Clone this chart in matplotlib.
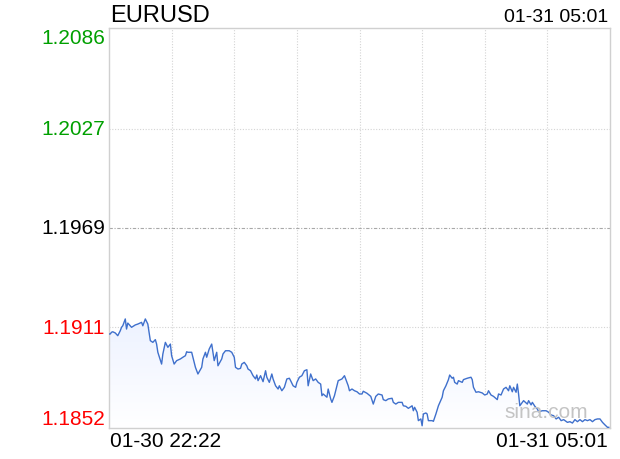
import matplotlib
matplotlib.use("Agg")
import matplotlib.pyplot as plt
import matplotlib.transforms as mtransforms
import numpy as np

# minutes after 01-30 22:22 and EURUSD price
minutes = [0, 1, 2, 3, 5, 7, 9, 10, 11, 13, 14, 15, 18, 21, 23, 26, 27, 29, 31, 33,
           35, 37, 38, 39, 42, 43, 45, 47, 49, 50, 52, 54, 57, 59, 61, 62, 63, 66, 67, 69,
           71, 74, 75, 77, 78, 80, 82, 84, 86, 87, 90, 91, 93, 96, 98, 100, 101, 103, 105, 106,
           108, 110, 111, 113, 115, 117, 118, 119, 121, 123, 125, 126, 128, 130, 131, 133, 135, 136, 138, 140,
           142, 144, 145, 147, 149, 150, 152, 154, 156, 158, 159, 161, 163, 165, 167, 169, 170, 171, 174, 175,
           177, 178, 180, 182, 183, 186, 188, 190, 191, 192, 194, 196, 198, 200, 202, 203, 206, 209, 211, 213,
           215, 218, 219, 221, 223, 226, 227, 229, 231, 234, 235, 237, 239, 242, 243, 244, 246, 247, 249, 250,
           251, 253, 254, 255, 258, 259, 261, 263, 266, 267, 269, 271, 272, 274, 275, 276, 278, 279, 282, 283,
           286, 289, 290, 291, 293, 295, 298, 300, 302, 303, 305, 307, 310, 311, 313, 315, 317, 319, 320, 322,
           323, 325, 326, 327, 328, 330, 331, 334, 335, 337, 338, 340, 342, 343, 346, 349, 351, 353, 355, 357,
           359, 361, 363, 366, 368, 370, 372, 374, 376, 378, 380, 382, 384, 386, 388, 390, 392, 394, 396, 398,
           399]
prices = [1.19070, 1.19070, 1.19080, 1.19083, 1.19076, 1.19060, 1.19089, 1.19109, 1.19118, 1.19158,
          1.19099, 1.19134, 1.19109, 1.19123, 1.19128, 1.19138, 1.19118, 1.19158, 1.19128, 1.19031,
          1.19021, 1.19037, 1.19011, 1.18963, 1.18894, 1.18953, 1.19021, 1.18992, 1.19011, 1.18943,
          1.18894, 1.18914, 1.18924, 1.18934, 1.18943, 1.18966, 1.18963, 1.18963, 1.18934, 1.18875,
          1.18836, 1.18875, 1.18924, 1.18963, 1.18934, 1.18982, 1.19011, 1.18914, 1.18963, 1.18884,
          1.18924, 1.18953, 1.18972, 1.18972, 1.18963, 1.18934, 1.18875, 1.18865, 1.18869, 1.18894,
          1.18904, 1.18884, 1.18865, 1.18855, 1.18826, 1.18807, 1.18830, 1.18797, 1.18826, 1.18791,
          1.18855, 1.18817, 1.18787, 1.18836, 1.18807, 1.18767, 1.18748, 1.18767, 1.18738, 1.18758,
          1.18807, 1.18811, 1.18797, 1.18767, 1.18758, 1.18787, 1.18817, 1.18826, 1.18855, 1.18861,
          1.18767, 1.18836, 1.18797, 1.18807, 1.18787, 1.18777, 1.18709, 1.18719, 1.18700, 1.18748,
          1.18690, 1.18670, 1.18709, 1.18767, 1.18797, 1.18807, 1.18826, 1.18787, 1.18767, 1.18738,
          1.18748, 1.18738, 1.18732, 1.18719, 1.18719, 1.18735, 1.18723, 1.18705, 1.18660, 1.18705,
          1.18719, 1.18713, 1.18686, 1.18680, 1.18690, 1.18694, 1.18670, 1.18660, 1.18670, 1.18670,
          1.18650, 1.18647, 1.18635, 1.18650, 1.18621, 1.18641, 1.18612, 1.18563, 1.18573, 1.18533,
          1.18602, 1.18608, 1.18602, 1.18563, 1.18563, 1.18559, 1.18602, 1.18650, 1.18700, 1.18738,
          1.18767, 1.18803, 1.18830, 1.18811, 1.18817, 1.18787, 1.18777, 1.18797, 1.18787, 1.18803,
          1.18811, 1.18817, 1.18803, 1.18758, 1.18729, 1.18732, 1.18725, 1.18713, 1.18719, 1.18738,
          1.18713, 1.18705, 1.18686, 1.18719, 1.18713, 1.18748, 1.18758, 1.18738, 1.18767, 1.18732,
          1.18758, 1.18729, 1.18777, 1.18719, 1.18650, 1.18670, 1.18680, 1.18660, 1.18680, 1.18655,
          1.18670, 1.18647, 1.18631, 1.18615, 1.18621, 1.18621, 1.18612, 1.18596, 1.18592, 1.18573,
          1.18583, 1.18563, 1.18569, 1.18553, 1.18557, 1.18549, 1.18569, 1.18557, 1.18569, 1.18557,
          1.18569, 1.18563, 1.18569, 1.18557, 1.18569, 1.18573, 1.18573, 1.18553, 1.18538, 1.18524,
          1.18524]

y_ticks = [1.2086, 1.2027, 1.1969, 1.1911, 1.1852]
y_labels = ['1.2086', '1.2027', '1.1969', '1.1911', '1.1852']
y_colors = ['#00a000', '#00a000', '#000000', '#ff0000', '#ff0000']
prev_close = 1.1969
symbol = 'EURUSD'
start_label = '01-30 22:22'
end_label = '01-31 05:01'
x_span = 400

plt.rcParams['font.family'] = ['Liberation Sans', 'DejaVu Sans']

fig = plt.figure(figsize=(6.2, 4.6), dpi=100)
ax = fig.add_axes([109 / 620, 1 - 429 / 460, 501 / 620, 400 / 460])
ax.set_xlim(0, x_span)
ax.set_ylim(y_ticks[-1], y_ticks[0])

x = np.array(minutes)
y = np.array(prices)

# gradient fill under the line
poly = ax.fill_between(x, y, y_ticks[-1], color='none', lw=0)
grad = np.linspace(0, 1, 256).reshape(-1, 1)
top_col = np.array([0.93, 0.95, 1.0])
img = top_col + (1 - top_col) * grad
img = img.reshape(256, 1, 3)
im = ax.imshow(img, aspect='auto', extent=[0, x_span, y_ticks[-1], y.max()],
               origin='upper', zorder=1)
im.set_clip_path(poly.get_paths()[0], transform=ax.transData)

ax.plot(x, y, color='#3f70cc', lw=1.0, zorder=3)

# grid
for i in range(1, 8):
    ax.axvline(x_span * i / 8, color='#d4d4d4', lw=0.8, ls=(0, (1, 1.5)), zorder=0)
for v in y_ticks[1:-1]:
    if v == prev_close:
        ax.axhline(v, color='#a8a8a8', lw=0.8, ls=(0, (3, 1.5, 1, 1.5)), zorder=2)
    else:
        ax.axhline(v, color='#d4d4d4', lw=0.8, ls=(0, (1, 1.5)), zorder=0)

for s in ax.spines.values():
    s.set_color('#d0d0d0')
    s.set_linewidth(1.0)
ax.set_xticks([])
ax.set_yticks([])

# y labels
trans = mtransforms.blended_transform_factory(fig.transFigure, ax.transData)
for i, (v, lab, c) in enumerate(zip(y_ticks, y_labels, y_colors)):
    va = 'center'
    if i == 0:
        va = 'top'
    elif i == len(y_ticks) - 1:
        va = 'bottom'
    ax.text(105 / 620, v, lab, color=c, fontsize=15, ha='right', va=va,
            transform=trans)

fig.text(110 / 620, 1 - 16 / 460, symbol, fontsize=17, ha='left', va='center')
fig.text(608 / 620, 1 - 18 / 460, end_label, fontsize=14, ha='right', va='center')
fig.text(110 / 620, 1 - 442 / 460, start_label, fontsize=15, ha='left', va='center')
fig.text(608 / 620, 1 - 442 / 460, end_label, fontsize=15, ha='right', va='center')
fig.text(546 / 620, 1 - 412 / 460, 'sina.com', fontsize=15, color='#c4c4c4',
         ha='center', va='center', zorder=5)

fig.savefig('out.png', dpi=100)
